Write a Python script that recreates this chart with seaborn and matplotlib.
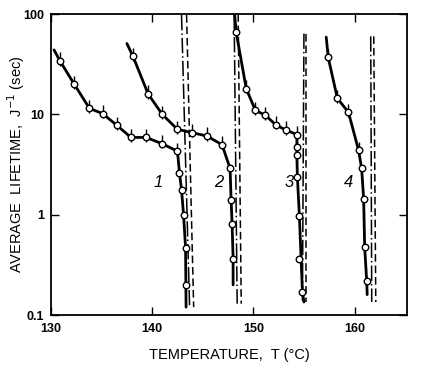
import numpy as np
import pandas as pd
import seaborn as sns
import matplotlib.pyplot as plt

# curve lines (start/end of each drawn curve plus the measured points)
line1_T = [130.3, 130.9, 132.3, 133.8, 135.1, 136.5, 137.9, 139.4, 141.0, 142.5, 142.7, 142.9, 143.1, 143.3, 143.35]
line1_J = [44, 34, 20, 11.5, 10.2, 7.8, 5.9, 5.9, 5.1, 4.3, 2.6, 1.78, 1.0, 0.47, 0.12]
line2_T = [137.5, 138.1, 139.6, 141.0, 142.5, 143.9, 145.4, 146.9, 147.7, 147.8, 147.9, 148.0, 148.0]
line2_J = [51, 38, 16, 10, 7.1, 6.6, 6.1, 5.0, 2.9, 1.4, 0.81, 0.36, 0.2]
line3_T = [148.15, 148.3, 149.3, 150.2, 151.2, 152.2, 153.2, 154.3, 154.3, 154.3, 154.35, 154.55, 154.85, 155.0]
line3_J = [100, 66, 18, 11, 9.8, 7.9, 7.0, 6.3, 4.7, 3.9, 2.4, 0.97, 0.17, 0.135]
line4_T = [157.2, 157.4, 158.3, 159.4, 160.4, 160.7, 160.9, 161.0, 161.2, 161.25]
line4_J = [59, 37, 14.5, 10.5, 4.4, 2.9, 1.45, 0.48, 0.22, 0.16]

# measured points (open circles)
pts1_T = [130.9, 132.3, 133.8, 135.1, 136.5, 137.9, 139.4, 141.0, 142.5, 142.7, 142.9, 143.1, 143.3, 143.3]
pts1_J = [34, 20, 11.5, 10.2, 7.8, 5.9, 5.9, 5.1, 4.3, 2.6, 1.78, 1.0, 0.47, 0.2]
pts2_T = [138.1, 139.6, 141.0, 142.5, 143.9, 145.4, 146.9, 147.7, 147.8, 147.9, 148.0]
pts2_J = [38, 16, 10, 7.1, 6.6, 6.1, 5.0, 2.9, 1.4, 0.81, 0.36]
pts3_T = [148.3, 149.3, 150.2, 151.2, 152.2, 153.2, 154.3, 154.3, 154.3, 154.35, 154.55, 154.55, 154.85]
pts3_J = [66, 18, 11, 9.8, 7.9, 7.0, 6.3, 4.7, 3.9, 2.4, 0.97, 0.36, 0.17]
pts4_T = [157.4, 158.3, 159.4, 160.4, 160.7, 160.9, 161.0, 161.2]
pts4_J = [37, 14.5, 10.5, 4.4, 2.9, 1.45, 0.48, 0.22]

# limit lines: (T at top, T at bottom), J top, J bottom
dashdot_T = [(142.9, 143.7), (148.1, 148.4), (155.0, 154.85), (161.6, 161.7)]
dashed_T = [(143.4, 144.1), (148.5, 148.8), (155.25, 155.25), (161.9, 162.1)]
limit_Jtop = [98, 100, 64, 60]
limit_Jbot = [0.12, 0.13, 0.135, 0.135]

curve_labels = ['1', '2', '3', '4']
label_T = [140.6, 146.6, 153.5, 159.4]
label_J = [2.1, 2.1, 2.1, 2.1]

sns.set_style('ticks')
plt.rcParams['font.family'] = ['Liberation Sans', 'DejaVu Sans']
plt.rcParams['text.color'] = 'black'
plt.rcParams['axes.labelcolor'] = 'black'
plt.rcParams['xtick.color'] = 'black'
plt.rcParams['ytick.color'] = 'black'

fig = plt.figure(figsize=(4.25, 3.72), dpi=100)
ax = fig.add_axes([0.12, 0.153, 0.838, 0.809])

lines = [(line1_T, line1_J), (line2_T, line2_J), (line3_T, line3_J), (line4_T, line4_J)]
for T, J in lines:
    sns.lineplot(x=T, y=J, sort=False, estimator=None, color='black', lw=2.0, ax=ax)

for i in range(4):
    t0, t1 = dashdot_T[i]
    sns.lineplot(x=[t0, t1], y=[limit_Jtop[i], limit_Jbot[i]], sort=False, estimator=None,
                 color='black', lw=1.1, ax=ax)
    ax.lines[-1].set_dashes([10, 2, 1, 2])
    t0, t1 = dashed_T[i]
    sns.lineplot(x=[t0, t1], y=[limit_Jtop[i], limit_Jbot[i]], sort=False, estimator=None,
                 color='black', lw=1.1, ax=ax)
    ax.lines[-1].set_dashes([5, 2.5])

pts = [(pts1_T, pts1_J), (pts2_T, pts2_J), (pts3_T, pts3_J), (pts4_T, pts4_J)]
for T, J in pts:
    T = np.array(T)
    J = np.array(J)
    big = J > 3.5
    ax.errorbar(T[big], J[big], yerr=[J[big] * 0.1, J[big] * 0.22], fmt='none',
                ecolor='black', elinewidth=1.0, capsize=0)
    sns.scatterplot(x=T, y=J, marker='o', s=22, facecolor='white', edgecolor='black',
                    linewidth=1.0, ax=ax, zorder=5)

for lab, t, j in zip(curve_labels, label_T, label_J):
    ax.text(t, j, lab, fontsize=12, style='italic', ha='center', va='center', color='black')

ax.set_yscale('log')
ax.set_xlim(130, 165.2)
ax.set_ylim(0.1, 100)
ax.set_xticks([130, 140, 150, 160])
ax.set_yticks([0.1, 1, 10, 100])
ax.set_yticklabels(['0.1', '1', '10', '100'], fontweight='bold')
ax.set_xticklabels(['130', '140', '150', '160'], fontweight='bold')
ax.minorticks_off()
ax.tick_params(direction='in', length=6, width=1, labelsize=9, top=True, right=True,
               color='black', labelcolor='black', pad=5)
ax.tick_params(axis='x', pad=6)
for s in ax.spines.values():
    s.set_linewidth(1.3)
    s.set_color('black')

ax.set_xlabel('TEMPERATURE,  T (°C)', fontsize=10.5, color='black')
ax.set_ylabel('AVERAGE  LIFETIME,  J$^{-1}$ (sec)', fontsize=10.5, color='black')
ax.xaxis.set_label_coords(0.5, -0.11)
ax.yaxis.set_label_coords(-0.068, 0.5)

fig.savefig('out.png', dpi=100)
